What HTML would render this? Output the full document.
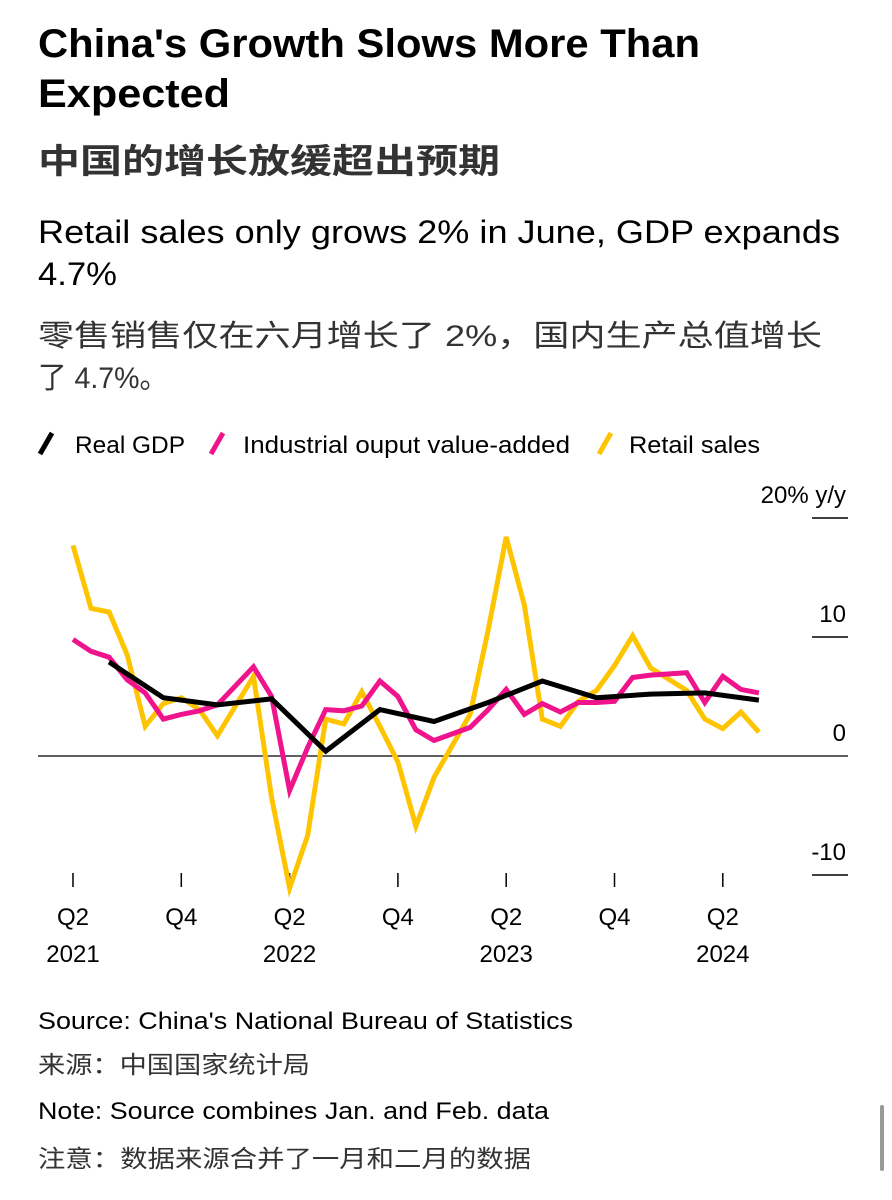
<!DOCTYPE html>
<html><head><meta charset="utf-8"><style>
html,body{margin:0;padding:0;background:#fff;}
svg{display:block;font-family:"Liberation Sans","Noto Sans CJK SC",sans-serif;}
</style></head><body>
<svg id="chart" width="892" height="1200" viewBox="0 0 892 1200">
<text x="38" y="57" font-size="40" font-weight="bold" textLength="662" lengthAdjust="spacingAndGlyphs" fill="#000">China's Growth Slows More Than</text>
<text x="38" y="107" font-size="40" font-weight="bold" textLength="192" lengthAdjust="spacingAndGlyphs" fill="#000">Expected</text>
<text x="38" y="173" font-size="34" font-weight="bold" textLength="462" lengthAdjust="spacingAndGlyphs" fill="#333">中国的增长放缓超出预期</text>
<text x="38" y="243" font-size="32" textLength="802" lengthAdjust="spacingAndGlyphs" fill="#000">Retail sales only grows 2% in June, GDP expands</text>
<text x="38" y="285" font-size="32" textLength="79" lengthAdjust="spacingAndGlyphs" fill="#000">4.7%</text>
<text x="38" y="346" font-size="30" textLength="784" lengthAdjust="spacingAndGlyphs" fill="#333">零售销售仅在六月增长了 2%，国内生产总值增长</text>
<text x="38" y="388" font-size="30" textLength="130" lengthAdjust="spacingAndGlyphs" fill="#333">了 4.7%。</text>
<g>
<line x1="40" y1="454" x2="52" y2="433" stroke="#000" stroke-width="5"/>
<text x="75" y="453" font-size="24" textLength="110" lengthAdjust="spacingAndGlyphs">Real GDP</text>
<line x1="211" y1="454" x2="223" y2="433" stroke="#f0148c" stroke-width="5"/>
<text x="243" y="453" font-size="24" textLength="327" lengthAdjust="spacingAndGlyphs">Industrial ouput value-added</text>
<line x1="599" y1="454" x2="611" y2="433" stroke="#ffc400" stroke-width="5"/>
<text x="629" y="453" font-size="24" textLength="131" lengthAdjust="spacingAndGlyphs">Retail sales</text>
</g>
<g id="axes"></g>
<g id="series"></g>
<text x="38" y="1029" font-size="24" textLength="535" lengthAdjust="spacingAndGlyphs">Source: China's National Bureau of Statistics</text>
<text x="38" y="1073" font-size="24" textLength="272" lengthAdjust="spacingAndGlyphs" fill="#333">来源：中国国家统计局</text>
<text x="38" y="1119" font-size="24" textLength="511" lengthAdjust="spacingAndGlyphs">Note: Source combines Jan. and Feb. data</text>
<text x="38" y="1167" font-size="24" textLength="493" lengthAdjust="spacingAndGlyphs" fill="#333">注意：数据来源合并了一月和二月的数据</text>
<rect x="880" y="1105" width="4" height="66" rx="2" fill="#999"/>
</svg>
<script>
const retailMonths=[0,1,2,3,4,5,6,7,8,10,11,12,13,14,15,16,17,18,19,20,22,23,24,25,26,27,28,29,30,31,32,34,35,36,37,38];
const retailValues=[17.7,12.4,12.1,8.5,2.5,4.4,4.9,3.9,1.7,6.7,-3.5,-11.1,-6.7,3.1,2.7,5.4,2.5,-0.5,-5.9,-1.8,3.5,10.6,18.4,12.7,3.1,2.5,4.6,5.5,7.6,10.1,7.4,5.5,3.1,2.3,3.7,2.0];
const industrialValues=[9.8,8.8,8.3,6.4,5.3,3.1,3.5,3.8,4.3,7.5,5.0,-2.9,0.7,3.9,3.8,4.2,6.3,5.0,2.2,1.3,2.4,3.9,5.6,3.5,4.4,3.7,4.5,4.5,4.6,6.6,6.8,7.0,4.5,6.7,5.6,5.3];
const gdpMonths=[2,5,8,11,14,17,20,23,26,29,32,35,38];
const gdpValues=[7.9,4.9,4.3,4.8,0.4,3.9,2.9,4.5,6.3,4.9,5.2,5.3,4.7];
const yTicks=[20,10,0,-10];
const yTickLabels=["20% y/y","10","0","-10"];
const xTickMonths=[0,6,12,18,24,30,36];
const xTickLabels=["Q2","Q4","Q2","Q4","Q2","Q4","Q2"];
const yearLabels=["2021","","2022","","2023","","2024"];

const NS="http://www.w3.org/2000/svg";
function xS(m){return 73+m*18.05;}
function yS(v){return 756-v*11.9;}
function mk(tag,attrs,parent){const e=document.createElementNS(NS,tag);for(const k in attrs)e.setAttribute(k,attrs[k]);parent.appendChild(e);return e;}
const axes=document.getElementById('axes');
const series=document.getElementById('series');
yTicks.forEach((v,i)=>{
  const y=yS(v);
  if(v===0){
    const l=mk('line',{x1:38,x2:848,y1:y,y2:y,stroke:'#000','stroke-width':1.3},axes);
    
    
  } else {
    const l=mk('line',{x1:812,x2:848,y1:y,y2:y,stroke:'#000','stroke-width':1.5},axes);
    
    
  }
  const t=mk('text',{x:846,y:y-15,'font-size':24,'text-anchor':'end'},axes);
  t.textContent=yTickLabels[i];
  
  
});
xTickMonths.forEach((m,i)=>{
  const x=xS(m);
  const l=mk('line',{x1:x,x2:x,y1:873,y2:887,stroke:'#000','stroke-width':1.5},axes);
  
  
  const t=mk('text',{x:x,y:925,'font-size':24,'text-anchor':'middle'},axes);
  t.textContent=xTickLabels[i];
  
  
  if(yearLabels[i]){
    const t2=mk('text',{x:x,y:962,'font-size':24,'text-anchor':'middle'},axes);
    t2.textContent=yearLabels[i];
    
    
  }
});
function line(months,vals,color,name){
  const d=months.map((m,i)=>(i?'L':'M')+xS(m).toFixed(1)+','+yS(vals[i]).toFixed(1)).join(' ');
  const p=mk('path',{d:d,fill:'none',stroke:color,'stroke-width':5,'stroke-linejoin':'miter','stroke-linecap':'butt'},series);
  
  
}
line(retailMonths,retailValues,'#ffc400','retail-sales-line');
line(retailMonths,industrialValues,'#f0148c','industrial-output-line');
line(gdpMonths,gdpValues,'#000','real-gdp-line');
</script>
</body></html>
